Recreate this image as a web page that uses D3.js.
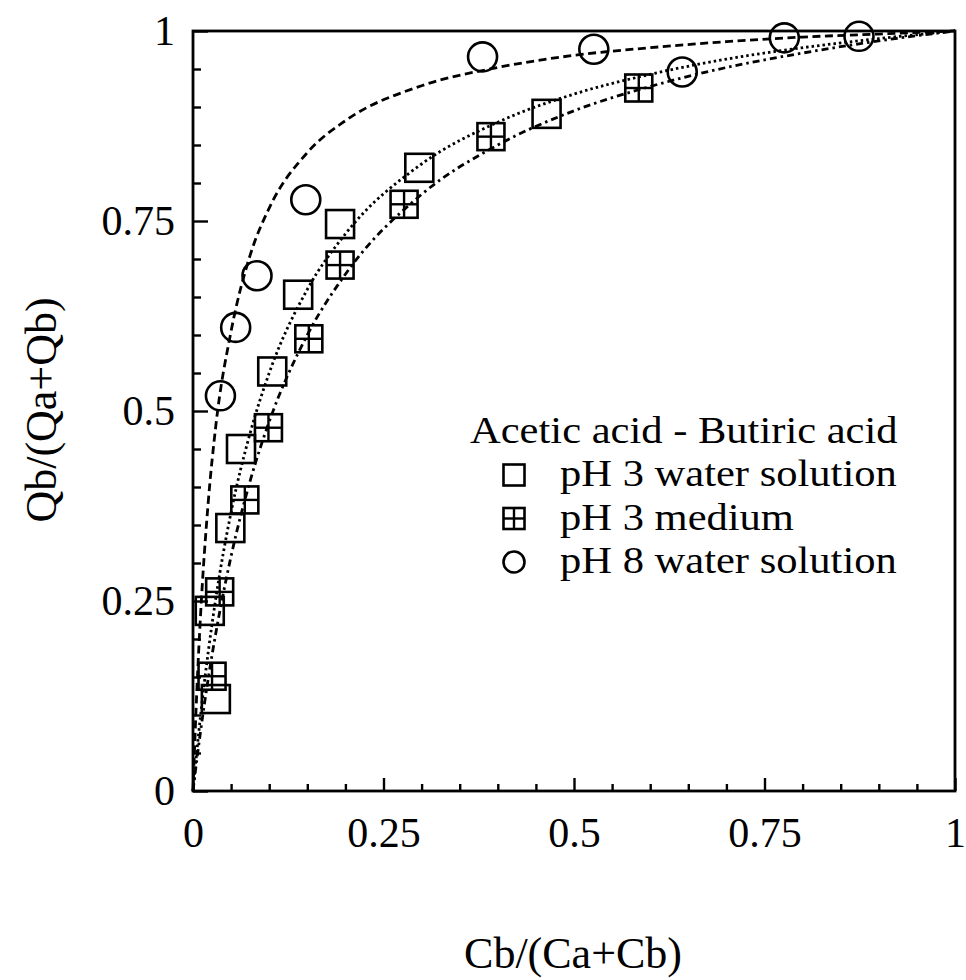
<!DOCTYPE html>
<html>
<head>
<meta charset="utf-8">
<script src="https://cdn.jsdelivr.net/npm/d3@7"></script>
<style>
body{margin:0;background:#fff}
text{font-family:"Liberation Serif","Times New Roman",serif;fill:#000}
</style>
</head>
<body>
<script>
// measured points, [Cb/(Ca+Cb), Qb/(Qa+Qb)]
var waterPH3 = [[0.030,0.121],[0.022,0.237],[0.049,0.346],[0.063,0.450],[0.104,0.552],
	[0.138,0.653],[0.193,0.746],[0.297,0.820],[0.464,0.891]]
var mediumPH3 = [[0.025,0.151],[0.035,0.262],[0.068,0.383],[0.099,0.478],[0.152,0.595],
	[0.193,0.692],[0.277,0.772],[0.391,0.861],[0.585,0.925]]
var waterPH8 = [[0.036,0.520],[0.056,0.610],[0.084,0.678],[0.148,0.778],[0.380,0.966],
	[0.526,0.976],[0.642,0.946],[0.776,0.991],[0.874,0.993]]

// fitted lines
var curveX =      [0, 0.005, 0.01, 0.02, 0.03, 0.05, 0.075, 0.1, 0.15, 0.2, 0.3, 0.4, 0.5, 0.6, 0.7, 0.8, 0.9, 1]
var fitPH8 =      [0, 0.131, 0.233, 0.380, 0.481, 0.605, 0.705, 0.767, 0.840, 0.882, 0.928, 0.952, 0.968, 0.978, 0.986, 0.992, 0.996, 1]
var fitWater3 =   [0, 0.052, 0.100, 0.183, 0.254, 0.367, 0.471, 0.550, 0.660, 0.733, 0.825, 0.880, 0.917, 0.943, 0.963, 0.978, 0.990, 1]
var fitMedium3 =  [0, 0.041, 0.079, 0.148, 0.208, 0.309, 0.408, 0.486, 0.600, 0.680, 0.785, 0.850, 0.895, 0.927, 0.952, 0.971, 0.987, 1]

var majorTicks = [0, 0.25, 0.5, 0.75, 1]
var tickLabels = ["0", "0.25", "0.5", "0.75", "1"]
var legendTitle = "Acetic acid - Butiric acid"
var legendLabels = ["pH 3 water solution", "pH 3 medium", "pH 8 water solution"]

var width = 966, height = 980,
	plotLeft = 193, plotRight = 955, plotTop = 31, plotBottom = 791,
	wide = 1.12 // the printed type is a bit wider than Times

var svg = d3.select("body").append("svg").attr("width", width).attr("height", height)

var x = d3.scaleLinear().domain([0, 1]).range([plotLeft, plotRight])
var y = d3.scaleLinear().domain([0, 1]).range([plotBottom, plotTop])
var minorTicks = d3.range(1, 20).map((i) => i / 20).filter((v) => majorTicks.indexOf(v) < 0)

function styleAxis(g) {
	g.select(".domain").remove()
	g.selectAll("line").attr("stroke", "#000").attr("stroke-width", 2.4)
	g.selectAll("text").attr("font-size", 42).attr("font-family", '"Liberation Serif",serif')
}

// x axis
svg.append("g").attr("transform", "translate(0," + plotBottom + ")")
	.call(d3.axisBottom(x).tickValues(minorTicks).tickSize(-7).tickFormat(""))
	.call(styleAxis)
svg.append("g").attr("transform", "translate(0," + plotBottom + ")")
	.call(d3.axisBottom(x).tickValues(majorTicks).tickSize(-13).tickPadding(26)
		.tickFormat((d, i) => tickLabels[i]))
	.call(styleAxis)

// y axis
svg.append("g").attr("transform", "translate(" + plotLeft + ",0)")
	.call(d3.axisLeft(y).tickValues(minorTicks).tickSize(-8).tickFormat(""))
	.call(styleAxis)
svg.append("g").attr("transform", "translate(" + plotLeft + ",0)")
	.call(d3.axisLeft(y).tickValues(majorTicks).tickSize(-15).tickPadding(18)
		.tickFormat((d, i) => tickLabels[i]))
	.call(styleAxis)

// frame
svg.append("rect").attr("x", plotLeft).attr("y", plotTop)
	.attr("width", plotRight - plotLeft).attr("height", plotBottom - plotTop)
	.attr("fill", "none").attr("stroke", "#000").attr("stroke-width", 2.8)

// titles
svg.append("text").attr("x", (plotLeft + plotRight) / 2 - 1).attr("y", 968)
	.attr("text-anchor", "middle").attr("font-size", 44).text("Cb/(Ca+Cb)")
svg.append("text").attr("transform", "translate(56,410) rotate(-90)")
	.attr("text-anchor", "middle").attr("font-size", 44).text("Qb/(Qa+Qb)")

// fitted lines
var line = d3.line().x((d) => x(d[0])).y((d) => y(d[1])).curve(d3.curveMonotoneX)
var fits = [
	{v: fitPH8, dash: "8,4.5"},
	{v: fitWater3, dash: "2.5,3"},
	{v: fitMedium3, dash: "7,4,2.5,4"}
]
svg.selectAll("path.fit").data(fits).enter().append("path").attr("class", "fit")
	.attr("d", (f) => line(curveX.map((cx, i) => [cx, f.v[i]])))
	.attr("fill", "none").attr("stroke", "#000").attr("stroke-width", 2.8)
	.attr("stroke-dasharray", (f) => f.dash)

// markers
function square(g, cx, cy, s) {
	g.append("rect").attr("x", cx - s / 2).attr("y", cy - s / 2).attr("width", s).attr("height", s)
		.attr("fill", "none").attr("stroke", "#000").attr("stroke-width", 2.6)
}
function hatched(g, cx, cy, s) {
	square(g, cx, cy, s)
	g.append("line").attr("x1", cx).attr("x2", cx).attr("y1", cy - s / 2).attr("y2", cy + s / 2)
		.attr("stroke", "#000").attr("stroke-width", 2.4)
	g.append("line").attr("y1", cy).attr("y2", cy).attr("x1", cx - s / 2).attr("x2", cx + s / 2)
		.attr("stroke", "#000").attr("stroke-width", 2.4)
}
function circle(g, cx, cy, s) {
	g.append("circle").attr("cx", cx).attr("cy", cy).attr("r", s / 2)
		.attr("fill", "none").attr("stroke", "#000").attr("stroke-width", 2.6)
}

var marks = svg.append("g")
waterPH3.forEach((d) => square(marks, x(d[0]), y(d[1]), 28))
mediumPH3.forEach((d) => hatched(marks, x(d[0]), y(d[1]), 27))
waterPH8.forEach((d) => circle(marks, x(d[0]), y(d[1]), 29))

// legend
var legend = svg.append("g")
function legendText(tx, ty, s) {
	legend.append("text").attr("transform", "translate(" + tx + "," + ty + ") scale(" + wide + ",1)")
		.attr("font-size", 38).text(s)
}
legendText(470, 443, legendTitle)
var drawers = [square, hatched, circle]
legendLabels.forEach((lab, i) => {
	var by = 486 + i * 43.5
	drawers[i](legend, 514, by - 11, 21)
	legendText(560, by, lab)
})
</script>
</body>
</html>
